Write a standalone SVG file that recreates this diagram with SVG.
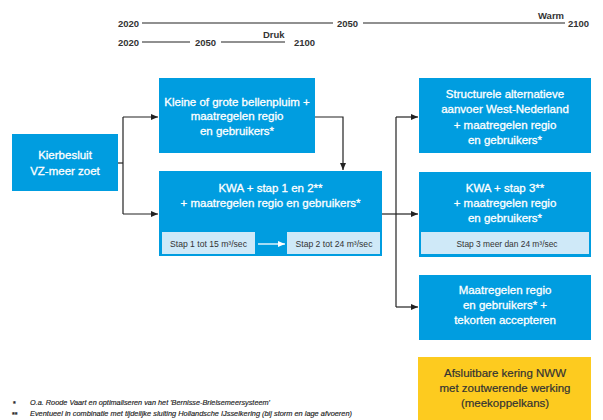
<svg xmlns="http://www.w3.org/2000/svg" width="603" height="420" viewBox="0 0 603 420">
<defs>
<marker id="ah" markerUnits="userSpaceOnUse" markerWidth="8" markerHeight="8" refX="7" refY="4" orient="auto">
<path d="M0,1 L7,4 L0,7 Z" fill="#222"/>
</marker>
<marker id="ahw" markerUnits="userSpaceOnUse" markerWidth="8" markerHeight="8" refX="7" refY="4" orient="auto">
<path d="M0,1 L7,4 L0,7 Z" fill="#fff"/>
</marker>
</defs>
<style>
.box{fill:#009de0}
.sub{fill:#cfe9f8}
.yel{fill:#fdcb1f}
.t{font-family:"Liberation Sans",Arial,sans-serif;font-size:11.5px;fill:#fff;text-anchor:middle;stroke:#fff;stroke-width:0.3px}
.ty{font-family:"Liberation Sans",Arial,sans-serif;font-size:11.5px;fill:#333;text-anchor:middle;stroke:#333;stroke-width:0.2px}
.s{font-family:"Liberation Sans",Arial,sans-serif;font-size:8.6px;fill:#333;text-anchor:middle}
.tl{font-family:"Liberation Sans",Arial,sans-serif;font-size:9.5px;font-weight:bold;fill:#333}
.fn{font-family:"Liberation Sans",Arial,sans-serif;font-size:7px;font-style:italic;fill:#222;stroke:#222;stroke-width:0.15px}
.c{fill:none;stroke:#222;stroke-width:1.2}
.tline{stroke:#222;stroke-width:1.1}
</style>
<rect width="603" height="420" fill="#fff"/>

<g id="timeline">
<text class="tl" x="118" y="26.5">2020</text>
<line class="tline" x1="142" y1="23" x2="333" y2="23"/>
<text class="tl" x="337" y="26.5">2050</text>
<line class="tline" x1="363" y1="23" x2="565" y2="23"/>
<text class="tl" x="538" y="18.5">Warm</text>
<text class="tl" x="568" y="27">2100</text>
<text class="tl" x="118" y="45.5">2020</text>
<line class="tline" x1="142" y1="42" x2="190" y2="42"/>
<text class="tl" x="195" y="45.5">2050</text>
<line class="tline" x1="221" y1="42" x2="285" y2="42"/>
<text class="tl" x="263" y="37.5">Druk</text>
<text class="tl" x="294" y="46">2100</text>
</g>

<g id="connectors">
<path class="c" d="M118,163 H123"/>
<path class="c" d="M123,117 V214"/>
<path class="c" d="M123,117 H158" marker-end="url(#ah)"/>
<path class="c" d="M123,214 H158" marker-end="url(#ah)"/>
<path class="c" d="M315,117 H343 V170" marker-end="url(#ah)"/>
<path class="c" d="M382,214 H396"/>
<path class="c" d="M396,117 V307"/>
<path class="c" d="M396,117 H418" marker-end="url(#ah)"/>
<path class="c" d="M396,214 H418" marker-end="url(#ah)"/>
<path class="c" d="M396,307 H418" marker-end="url(#ah)"/>
</g>

<g id="kierbesluit">
<rect class="box" x="12" y="134" width="106" height="57"/>
<text class="t" x="65" y="159">Kierbesluit</text>
<text class="t" x="65" y="175">VZ-meer zoet</text>
</g>

<g id="bellenpluim">
<rect class="box" x="159" y="78" width="156" height="75"/>
<text class="t" x="237" y="106">Kleine of grote bellenpluim +</text>
<text class="t" x="237" y="120">maatregelen regio</text>
<text class="t" x="237" y="135">en gebruikers*</text>
</g>

<g id="kwa12">
<rect class="box" x="159" y="171" width="223" height="85"/>
<text class="t" x="270.5" y="192">KWA + stap 1 en 2**</text>
<text class="t" x="270.5" y="207">+ maatregelen regio en gebruikers*</text>
<rect class="sub" x="162" y="232" width="93" height="22"/>
<text class="s" x="208.5" y="247">Stap 1 tot 15 m³/sec</text>
<rect class="sub" x="287" y="232" width="93" height="22"/>
<text class="s" x="334" y="247">Stap 2 tot 24 m³/sec</text>
<path d="M258,244 H285" stroke="#fff" stroke-width="1.3" fill="none" marker-end="url(#ahw)"/>
</g>

<g id="structurele">
<rect class="box" x="419" y="78" width="172" height="75"/>
<text class="t" x="505" y="98">Structurele alternatieve</text>
<text class="t" x="505" y="113">aanvoer West-Nederland</text>
<text class="t" x="505" y="129">+ maatregelen regio</text>
<text class="t" x="505" y="144">en gebruikers*</text>
</g>

<g id="kwa3">
<rect class="box" x="419" y="172" width="172" height="85"/>
<text class="t" x="505" y="192">KWA + stap 3**</text>
<text class="t" x="505" y="207">+ maatregelen regio</text>
<text class="t" x="505" y="222">en gebruikers*</text>
<rect class="sub" x="421" y="232" width="168" height="22"/>
<text class="s" x="507" y="246.5" style="font-size:8.4px">Stap 3 meer dan 24 m³/sec</text>
</g>

<g id="maatregelen">
<rect class="box" x="419" y="275" width="172" height="65"/>
<text class="t" x="505" y="294">Maatregelen regio</text>
<text class="t" x="505" y="309">en gebruikers* +</text>
<text class="t" x="505" y="324">tekorten accepteren</text>
</g>

<g id="kering">
<rect class="yel" x="418" y="357" width="173" height="70"/>
<text class="ty" x="505" y="377">Afsluitbare kering NWW</text>
<text class="ty" x="505" y="392">met zoutwerende werking</text>
<text class="ty" x="505" y="407">(meekoppelkans)</text>
</g>

<g id="footnotes">
<text class="fn" x="13" y="406" style="font-style:normal;font-weight:bold">*</text>
<text class="fn" x="30" y="405" textLength="240" lengthAdjust="spacingAndGlyphs">O.a. Roode Vaart en optimaliseren van het 'Bernisse-Brielsemeersysteem'</text>
<text class="fn" x="12" y="417" style="font-style:normal;font-weight:bold">**</text>
<text class="fn" x="30" y="416" textLength="322" lengthAdjust="spacingAndGlyphs">Eventueel in combinatie met tijdelijke sluiting Hollandsche IJsselkering (bij storm en lage afvoeren)</text>
</g>
</svg>
